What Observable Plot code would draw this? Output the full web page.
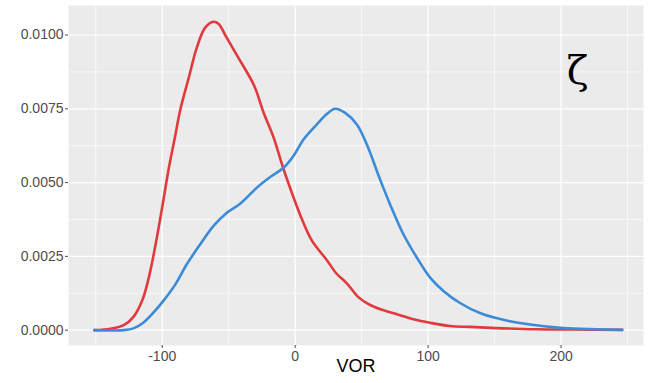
<!DOCTYPE html>
<html>
<head>
<meta charset="utf-8">
<script src="https://cdn.jsdelivr.net/npm/d3@7"></script>
<script src="https://cdn.jsdelivr.net/npm/@observablehq/plot@0.6"></script>
<style>
  html, body { margin: 0; padding: 0; background: #fff; }
  #chart { width: 648px; height: 383px; }
</style>
</head>
<body>
<div id="chart"></div>
<script>
// Red density curve
const redX = [-151, -139, -129, -121.6, -115, -110, -105, -100, -95, -90, -86.5, -80, -74, -67.7, -61.4, -57.7, -51.4, -43, -31, -24, -16, -10, -4, 4, 12.5, 24, 31, 39, 47.5, 56, 66, 76.5, 89, 101.5, 116.5, 131.5, 151.5, 181.5, 210, 246];
const redY = [0, 0.00005, 0.00017, 0.00045, 0.00101, 0.0018, 0.0029, 0.00417, 0.0055, 0.00664, 0.00745, 0.00856, 0.00957, 0.01025, 0.01045, 0.01038, 0.0099, 0.00925, 0.0083, 0.0074, 0.0065, 0.00563, 0.00484, 0.00388, 0.00304, 0.00236, 0.00192, 0.00158, 0.00112, 0.00086, 0.00068, 0.00054, 0.00037, 0.00025, 0.00014, 0.00011, 0.00007, 0.00003, 0.00002, 0.00001];
// Blue density curve
const blueX = [-151, -129, -121.6, -114, -106.5, -99, -90, -81.4, -71.4, -61.4, -51.4, -41.4, -28.8, -18.8, -8.8, -1.3, 6.3, 16.3, 23.8, 30, 37.6, 46.4, 53.9, 63.9, 71.4, 81.4, 91.5, 101.5, 111.5, 124, 139, 156.6, 176.7, 201.7, 226.7, 246];
const blueY = [0, 0, 0.00006, 0.00026, 0.0006, 0.001, 0.00156, 0.00224, 0.00291, 0.00353, 0.00398, 0.00428, 0.00483, 0.00519, 0.0055, 0.0059, 0.00646, 0.00697, 0.00732, 0.0075, 0.00736, 0.00697, 0.00629, 0.0051, 0.00426, 0.00325, 0.00246, 0.00178, 0.00133, 0.00092, 0.00058, 0.00035, 0.00019, 0.00007, 0.00003, 0.00001];

const xTicks = [-100, 0, 100, 200];
const xMinor = [-150, -50, 50, 150, 250];
const yTicks = [0, 0.0025, 0.005, 0.0075, 0.01];
const yMinor = [0.00125, 0.00375, 0.00625, 0.00875];
const xLabel = "VOR";
const annotation = "ζ";

const red = redX.map((x, i) => ({x, y: redY[i]}));
const blue = blueX.map((x, i) => ({x, y: blueY[i]}));

const font = "'Liberation Sans', Arial, sans-serif";

const chart = Plot.plot({
  width: 648,
  height: 383,
  marginTop: 5,
  marginBottom: 38,
  marginLeft: 68,
  marginRight: 5,
  style: {fontFamily: font, background: "#fff", overflow: "visible"},
  x: {domain: [-170.5, 262]},
  y: {domain: [-0.00052, 0.011]},
  marks: [
    Plot.frame({fill: "#EBEBEB", stroke: null}),
    Plot.ruleX(xMinor, {stroke: "#fff", strokeWidth: 0.6}),
    Plot.ruleY(yMinor, {stroke: "#fff", strokeWidth: 0.6}),
    Plot.ruleX(xTicks, {stroke: "#fff", strokeWidth: 1.2}),
    Plot.ruleY(yTicks, {stroke: "#fff", strokeWidth: 1.2}),
    Plot.axisX({ticks: xTicks, tickFormat: d => String(d), tickSize: 3, tickPadding: 3, fontSize: 14, color: "#4D4D4D", label: null}),
    Plot.axisY({ticks: yTicks, tickFormat: d => d.toFixed(4), tickSize: 3, tickPadding: 2, fontSize: 14, color: "#4D4D4D", label: null}),
    Plot.line(red, {x: "x", y: "y", stroke: "#E03A3E", strokeWidth: 2.6, curve: "catmull-rom"}),
    Plot.line(blue, {x: "x", y: "y", stroke: "#3B8BD9", strokeWidth: 2.6, curve: "catmull-rom"}),
    Plot.text([xLabel], {frameAnchor: "bottom", dy: 26, fontSize: 18, fill: "#000", text: d => d}),
    Plot.text([annotation], {frameAnchor: "top-right", dx: -55, dy: 50, fontSize: 40, fill: "#000", text: d => d, fontFamily: "'DejaVu Serif', serif"})
  ]
});
document.getElementById("chart").appendChild(chart);
</script>
</body>
</html>
